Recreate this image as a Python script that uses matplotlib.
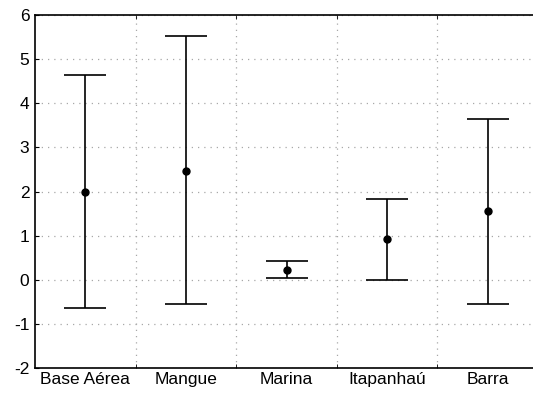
import matplotlib.pyplot as plt
import numpy as np

plt.rcParams['font.family'] = ['Liberation Sans', 'DejaVu Sans']
plt.rcParams['axes.unicode_minus'] = False

sites = ['Base Aérea', 'Mangue', 'Marina', 'Itapanhaú', 'Barra']
means = [2.0, 2.47, 0.22, 0.93, 1.56]
upper = [4.63, 5.52, 0.43, 1.83, 3.65]
lower = [-0.65, -0.55, 0.04, 0.0, -0.56]

x = np.arange(1, len(sites) + 1)
m = np.array(means)
yerr = [m - np.array(lower), np.array(upper) - m]

fig = plt.figure(figsize=(5.33, 3.96), dpi=100)
ax = fig.add_axes([35/533, 1 - 368/396, 503/533, 353/396])

ax.errorbar(x, m, yerr=yerr, fmt='o', color='black', ms=5,
            elinewidth=1.2, capsize=15, capthick=1.2)

ax.set_xlim(0.5, 5.5)
ax.set_ylim(-2, 6)
ax.set_yticks(range(-2, 7))
ax.set_xticks(x)
ax.set_xticklabels(sites)
ax.set_xticks(x[:-1] + 0.5, minor=True)

ax.tick_params(axis='x', which='major', length=0, labelsize=12.5, pad=3)
ax.tick_params(axis='x', which='minor', direction='in', length=3, top=True)
ax.tick_params(axis='y', direction='in', length=3, labelsize=12.5, pad=4)

ax.grid(True, axis='y', which='major', linestyle=(0, (1, 4)), color='#a8a8a8', linewidth=0.9)
ax.grid(True, axis='x', which='minor', linestyle=(0, (1, 4)), color='#a8a8a8', linewidth=0.9)
ax.set_axisbelow(True)

for s in ['left', 'bottom', 'top']:
    ax.spines[s].set_linewidth(1.2)
ax.spines['right'].set_visible(False)

fig.savefig('out.png', dpi=100)
